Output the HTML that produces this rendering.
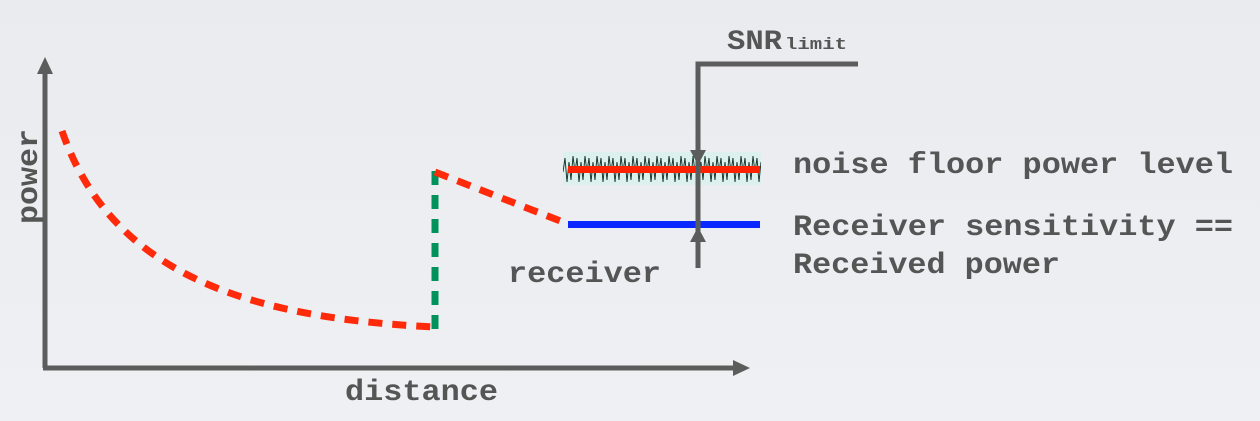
<!DOCTYPE html>
<html><head><meta charset="utf-8"><style>html,body{margin:0;padding:0;background:#ebedf0}svg{display:block}
.t{font-family:"Liberation Mono","Courier New","DejaVu Sans Mono",monospace;font-weight:bold;fill:#555}</style></head>
<body>
<svg width="1260" height="421" viewBox="0 0 1260 421" xmlns="http://www.w3.org/2000/svg">
<defs><linearGradient id="bg" x1="0" y1="0" x2="0" y2="1"><stop offset="0" stop-color="#e9ebef"/><stop offset="1" stop-color="#eef0f3"/></linearGradient>
<pattern id="nz" x="563" y="152" width="12" height="34" patternUnits="userSpaceOnUse">
<path d="M0 20 L2 6 L4 30 L6 10 L8 28 L10 4 L12 20" fill="none" stroke="#1a3a30" stroke-width="1"/>
</pattern></defs>
<rect width="1260" height="421" fill="url(#bg)"/>
<g fill="none" stroke="#5a5d5c" stroke-width="5">
<path d="M45 368 L45 70"/><path d="M43 368 L735 368"/>
</g>
<polygon points="45,57 37,74 53,74" fill="#5a5d5c"/>
<polygon points="750,368 733,360 733,376" fill="#5a5d5c"/>
<path d="M62 131 C110 270 240 318 435 327" fill="none" stroke="#ff2a0a" stroke-width="7" stroke-dasharray="14,10"/>
<path d="M435 329 L435 168" fill="none" stroke="#00925a" stroke-width="7" stroke-dasharray="14,10"/>
<path d="M435 172 L568 224" fill="none" stroke="#ff2a0a" stroke-width="7" stroke-dasharray="14,10"/>
<rect x="563" y="152" width="198" height="33" fill="#dcf1ee"/>
<rect x="563" y="152" width="198" height="33" fill="url(#nz)"/>
<rect x="568" y="166" width="192" height="7" fill="#ff2200"/>
<rect x="568" y="221" width="192" height="7" fill="#0a28ff"/>
<g stroke="#5a5d5c" stroke-width="5" fill="none"><path d="M698 268 L698 64 L858 64"/></g>
<polygon points="690,150 706,150 698,165" fill="#5a5d5c"/>
<polygon points="690,242 706,242 698,227" fill="#5a5d5c"/>
<g class="t" font-size="30">
<text x="793" y="173" textLength="440" lengthAdjust="spacingAndGlyphs">noise floor power level</text>
<text x="793" y="235" textLength="440" lengthAdjust="spacingAndGlyphs">Receiver sensitivity ==</text>
<text x="793" y="273" textLength="267" lengthAdjust="spacingAndGlyphs">Received power</text>
<text x="508" y="282" textLength="153" lengthAdjust="spacingAndGlyphs">receiver</text>
<text x="345" y="400" textLength="153" lengthAdjust="spacingAndGlyphs">distance</text>
<text x="727" y="49" font-size="28" textLength="55" lengthAdjust="spacingAndGlyphs">SNR</text>
<text x="785" y="49" font-size="17" textLength="62" lengthAdjust="spacingAndGlyphs">limit</text>
<text transform="translate(37,224) rotate(-90)" x="0" y="0" textLength="95" lengthAdjust="spacingAndGlyphs">power</text>
</g>
</svg>
</body></html>
